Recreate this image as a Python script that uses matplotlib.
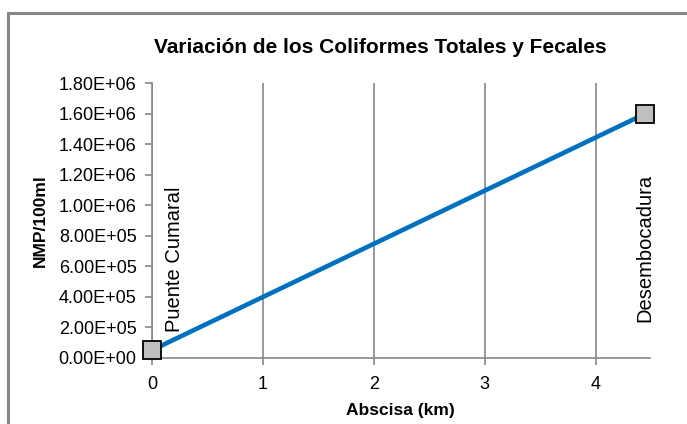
import matplotlib
matplotlib.use("Agg")
import matplotlib.pyplot as plt
from matplotlib.patches import Rectangle

plt.rcParams['font.family'] = ['Liberation Sans Narrow', 'Liberation Sans', 'DejaVu Sans']

abscisa = [0.0, 4.45]
nmp = [5.0e4, 1.6e6]
sitios = ['Puente Cumaral', 'Desembocadura']
yticks = [i * 2.0e5 for i in range(10)]
xticks = [0, 1, 2, 3, 4]

fig = plt.figure(figsize=(6.87, 4.24), dpi=100)
ax = fig.add_axes([0.221, 0.156, 0.725, 0.648])

# outer frame of the chart area
fig.patches.append(Rectangle((8 / 687, -0.1), 1.2, 0.969 + 0.1, transform=fig.transFigure,
                             fill=False, edgecolor='#878787', lw=2.2))

ax.plot(abscisa, nmp, color='#0070C0', lw=3.3, marker='s', ms=13,
        mfc='#BFBFBF', mec='black', mew=1.3, zorder=5, clip_on=False)

ax.set_xlim(0, 4.49)
ax.set_ylim(0, 1.8e6)
ax.set_xticks(xticks)
ax.set_yticks(yticks)
ax.set_yticklabels(['%.2fE+%02d' % (v / 10 ** (len(str(int(v))) - 1) if v else 0,
                                    len(str(int(v))) - 1 if v else 0) for v in yticks])
ax.grid(axis='x', color='#878787', lw=1.2)
ax.set_axisbelow(True)

for s in ['top', 'right']:
    ax.spines[s].set_visible(False)
for s in ['left', 'bottom']:
    ax.spines[s].set_color('#878787')
    ax.spines[s].set_linewidth(1.2)
ax.tick_params(axis='y', colors='#878787', labelcolor='black', labelsize=13, length=5, width=1.2, pad=6)
ax.tick_params(axis='x', length=5, width=1.2, colors='#878787', labelcolor='black', labelsize=13, pad=8)

ax.text(0.115, 1.7e5, sitios[0], rotation=90, fontsize=14.5, ha='left', va='bottom')
ax.text(4.36, 2.35e5, sitios[1], rotation=90, fontsize=14.5, ha='left', va='bottom')

ax.set_xlabel('Abscisa (km)', fontsize=12.5, fontweight='bold', labelpad=7)
ax.set_ylabel('NMP/100ml', fontsize=12.5, fontweight='bold', labelpad=8)
fig.text(0.553, 0.889, 'Variación de los Coliformes Totales y Fecales', fontsize=15,
         fontweight='bold', ha='center', va='center')

fig.savefig('out.png', dpi=100)
